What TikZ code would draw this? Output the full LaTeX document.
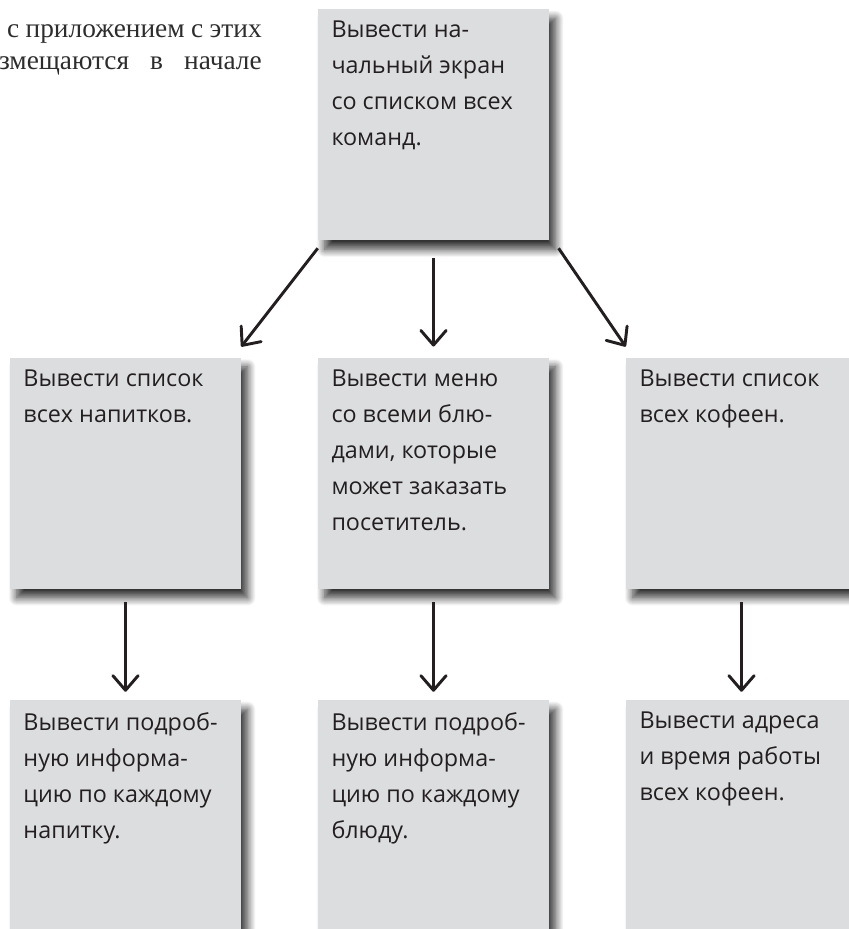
\documentclass[tikz,border=0pt]{standalone}
\usepackage{fontspec}
\setmainfont{Liberation Serif}
\newfontfamily\notefont{Open Sans}
\usepackage{tikz}
\usetikzlibrary{arrows.meta, shadows.blur}

\definecolor{notegray}{RGB}{220,221,223}
\definecolor{ink}{RGB}{35,31,32}
\definecolor{bodytext}{RGB}{45,45,45}

\newcommand{\notetext}[1]{\parbox[c][155pt][t]{153pt}{\raggedright #1}}

\begin{document}
\begin{tikzpicture}[
  x=0.75pt, y=-0.75pt,
  note/.style={fill=notegray, minimum width=173.25pt, minimum height=173.25pt,
               inner xsep=10pt, inner ysep=9pt, text=ink,
               font=\notefont\fontsize{17.5}{27}\selectfont,
               blur shadow={shadow xshift=5pt, shadow yshift=-7pt,
                            shadow blur radius=6pt, shadow blur steps=12,
                            shadow opacity=80}},
  arrow/.style={-{Straight Barb[length=11pt, width=19pt, round]}, line width=2.2pt, ink},
]
  \clip (0,0) rectangle (849,929);

  % Cut-off body text in the corner
  \node[anchor=north east, align=right, text=bodytext, inner sep=0pt,
        font=\fontsize{20.5}{20}\selectfont] (intro) at (262,24)
    {\makebox[191pt][s]{с приложением с этих}\\[4pt]
     \makebox[197pt][s]{змещаются в начале}};

  % Notes
  \node[note] (start) at (433.5,124.5)
    {\notetext{Вывести на-\\чальный экран\\со списком всех\\команд.}};

  \node[note] (drinks) at (125.5,473)
    {\notetext{Вывести список\\всех напитков.}};
  \node[note] (menu)   at (433.5,473)
    {\notetext{Вывести меню\\со всеми блю-\\дами, которые\\может заказать\\посетитель.}};
  \node[note] (shops)  at (741.5,473)
    {\notetext{Вывести список\\всех кофеен.}};

  \node[note] (drinkinfo) at (125.5,815.5)
    {\notetext{Вывести подроб-\\ную информа-\\цию по каждому\\напитку.}};
  \node[note] (dishinfo)  at (433.5,815.5)
    {\notetext{Вывести подроб-\\ную информа-\\цию по каждому\\блюду.}};
  \node[note] (shopinfo)  at (741.5,815.5)
    {\notetext{Вывести адреса\\и время работы\\всех кофеен.}};

  % Arrows from the start screen
  \draw[arrow] ([yshift=-6pt]start.south west) -- ([yshift=8pt]drinks.north east);
  \draw[arrow] ([yshift=-13pt]start.south) -- ([yshift=8pt]menu.north);
  \draw[arrow] ([xshift=7pt,yshift=-6pt]start.south east) -- ([yshift=8pt]shops.north west);

  % Arrows to the detail screens
  \draw[arrow] ([yshift=-10pt]drinks.south) -- ([yshift=6pt]drinkinfo.north);
  \draw[arrow] ([yshift=-10pt]menu.south)   -- ([yshift=6pt]dishinfo.north);
  \draw[arrow] ([yshift=-10pt]shops.south)  -- ([yshift=6pt]shopinfo.north);
\end{tikzpicture}
\end{document}
